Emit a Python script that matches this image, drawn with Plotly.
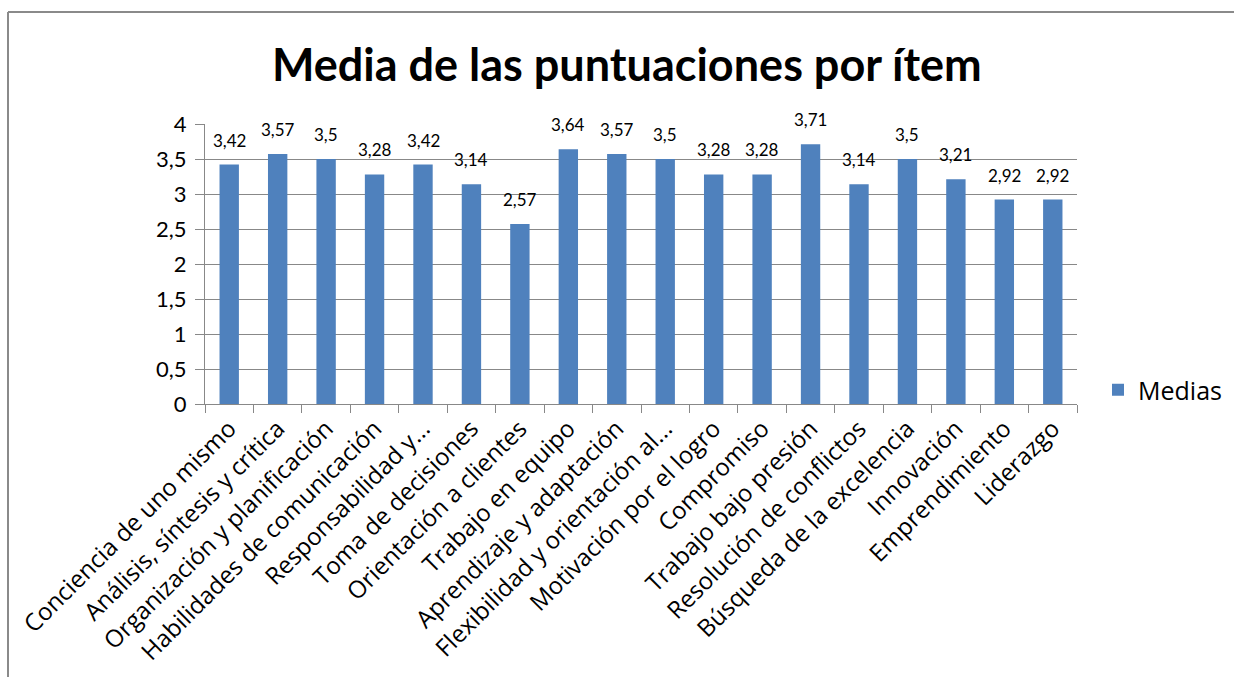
import plotly.graph_objects as go

categories = [
    "Conciencia de uno mismo",
    "Análisis, síntesis y crítica",
    "Organización y planificación",
    "Habilidades de comunicación",
    "Responsabilidad y...",
    "Toma de decisiones",
    "Orientación a clientes",
    "Trabajo en equipo",
    "Aprendizaje y adaptación",
    "Flexibilidad y orientación al...",
    "Motivación por el logro",
    "Compromiso",
    "Trabajo bajo presión",
    "Resolución de conflictos",
    "Búsqueda de la excelencia",
    "Innovación",
    "Emprendimiento",
    "Liderazgo",
]
medias = [3.42, 3.57, 3.5, 3.28, 3.42, 3.14, 2.57, 3.64, 3.57, 3.5,
          3.28, 3.28, 3.71, 3.14, 3.5, 3.21, 2.92, 2.92]
series_name = "Medias"
title_text = "Media de las puntuaciones por ítem"
y_ticks = [0, 0.5, 1, 1.5, 2, 2.5, 3, 3.5, 4]
y_tick_labels = ["0", "0,5", "1", "1,5", "2", "2,5", "3", "3,5", "4"]

FONT = "Lato, Calibri, Carlito, sans-serif"
FONT2 = "Open Sans, Lato, sans-serif"
BAR = "#4F81BD"
GRID = "#888888"

W, H = 1234, 677
L, R, T, B = 205, 1077, 124, 404

def fmt(v):
    s = ("%.2f" % v).rstrip("0").rstrip(".")
    return s.replace(".", ",")

fig = go.Figure()
fig.add_trace(go.Bar(
    x=categories, y=medias, name=series_name,
    marker=dict(color=BAR, line=dict(width=0)),
    width=0.4, showlegend=True,
))

annotations = []
for c, v in zip(categories, medias):
    annotations.append(dict(
        x=c, y=v, xref="x", yref="y", text=fmt(v), showarrow=False,
        yanchor="bottom", yshift=12,
        font=dict(family=FONT, size=17, color="#000000"),
    ))

px = lambda p: (p - L) / (R - L)
py = lambda p: (B - p) / (B - T)

shapes = [
    dict(type="line", xref="paper", yref="paper",
         x0=px(8), x1=px(1240), y0=py(12), y1=py(12),
         line=dict(color="#8a8a8a", width=2)),
    dict(type="line", xref="paper", yref="paper",
         x0=px(8), x1=px(8), y0=py(12), y1=py(690),
         line=dict(color="#8a8a8a", width=2)),
]

fig.update_layout(
    width=W, height=H,
    margin=dict(l=L, r=W - R, t=T, b=H - B, autoexpand=False),
    paper_bgcolor="white", plot_bgcolor="white",
    font=dict(family=FONT, color="#000000"),
    title=dict(text="<b>" + title_text + "</b>", x=0.508, xanchor="center",
               y=1 - 65 / H, yanchor="middle", yref="container",
               font=dict(family=FONT, size=45, color="#000000")),
    bargap=0.6,
    xaxis=dict(
        type="category", tickangle=-45, tickson="boundaries",
        ticks="outside", ticklen=8, tickcolor=GRID, tickwidth=1,
        showline=True, linecolor=GRID, linewidth=1,
        showgrid=False, tickfont=dict(family=FONT2, size=24, color="#000000"),
        range=[-0.5, len(categories) - 0.5],
    ),
    yaxis=dict(
        range=[0, 4], tickvals=y_ticks, ticktext=y_tick_labels,
        ticks="outside", ticklen=9, tickcolor=GRID, tickwidth=1,
        showline=True, linecolor=GRID, linewidth=1,
        showgrid=True, gridcolor=GRID, gridwidth=1, zeroline=False,
        ticklabelstandoff=4,
        tickfont=dict(family=FONT, size=22, color="#000000"),
    ),
    legend=dict(x=px(1098), xanchor="left", y=py(390), yanchor="middle",
                font=dict(family=FONT2, size=25, color="#000000"),
                bgcolor="rgba(0,0,0,0)"),
    annotations=annotations,
    shapes=shapes,
)

fig.write_html("out.html")
